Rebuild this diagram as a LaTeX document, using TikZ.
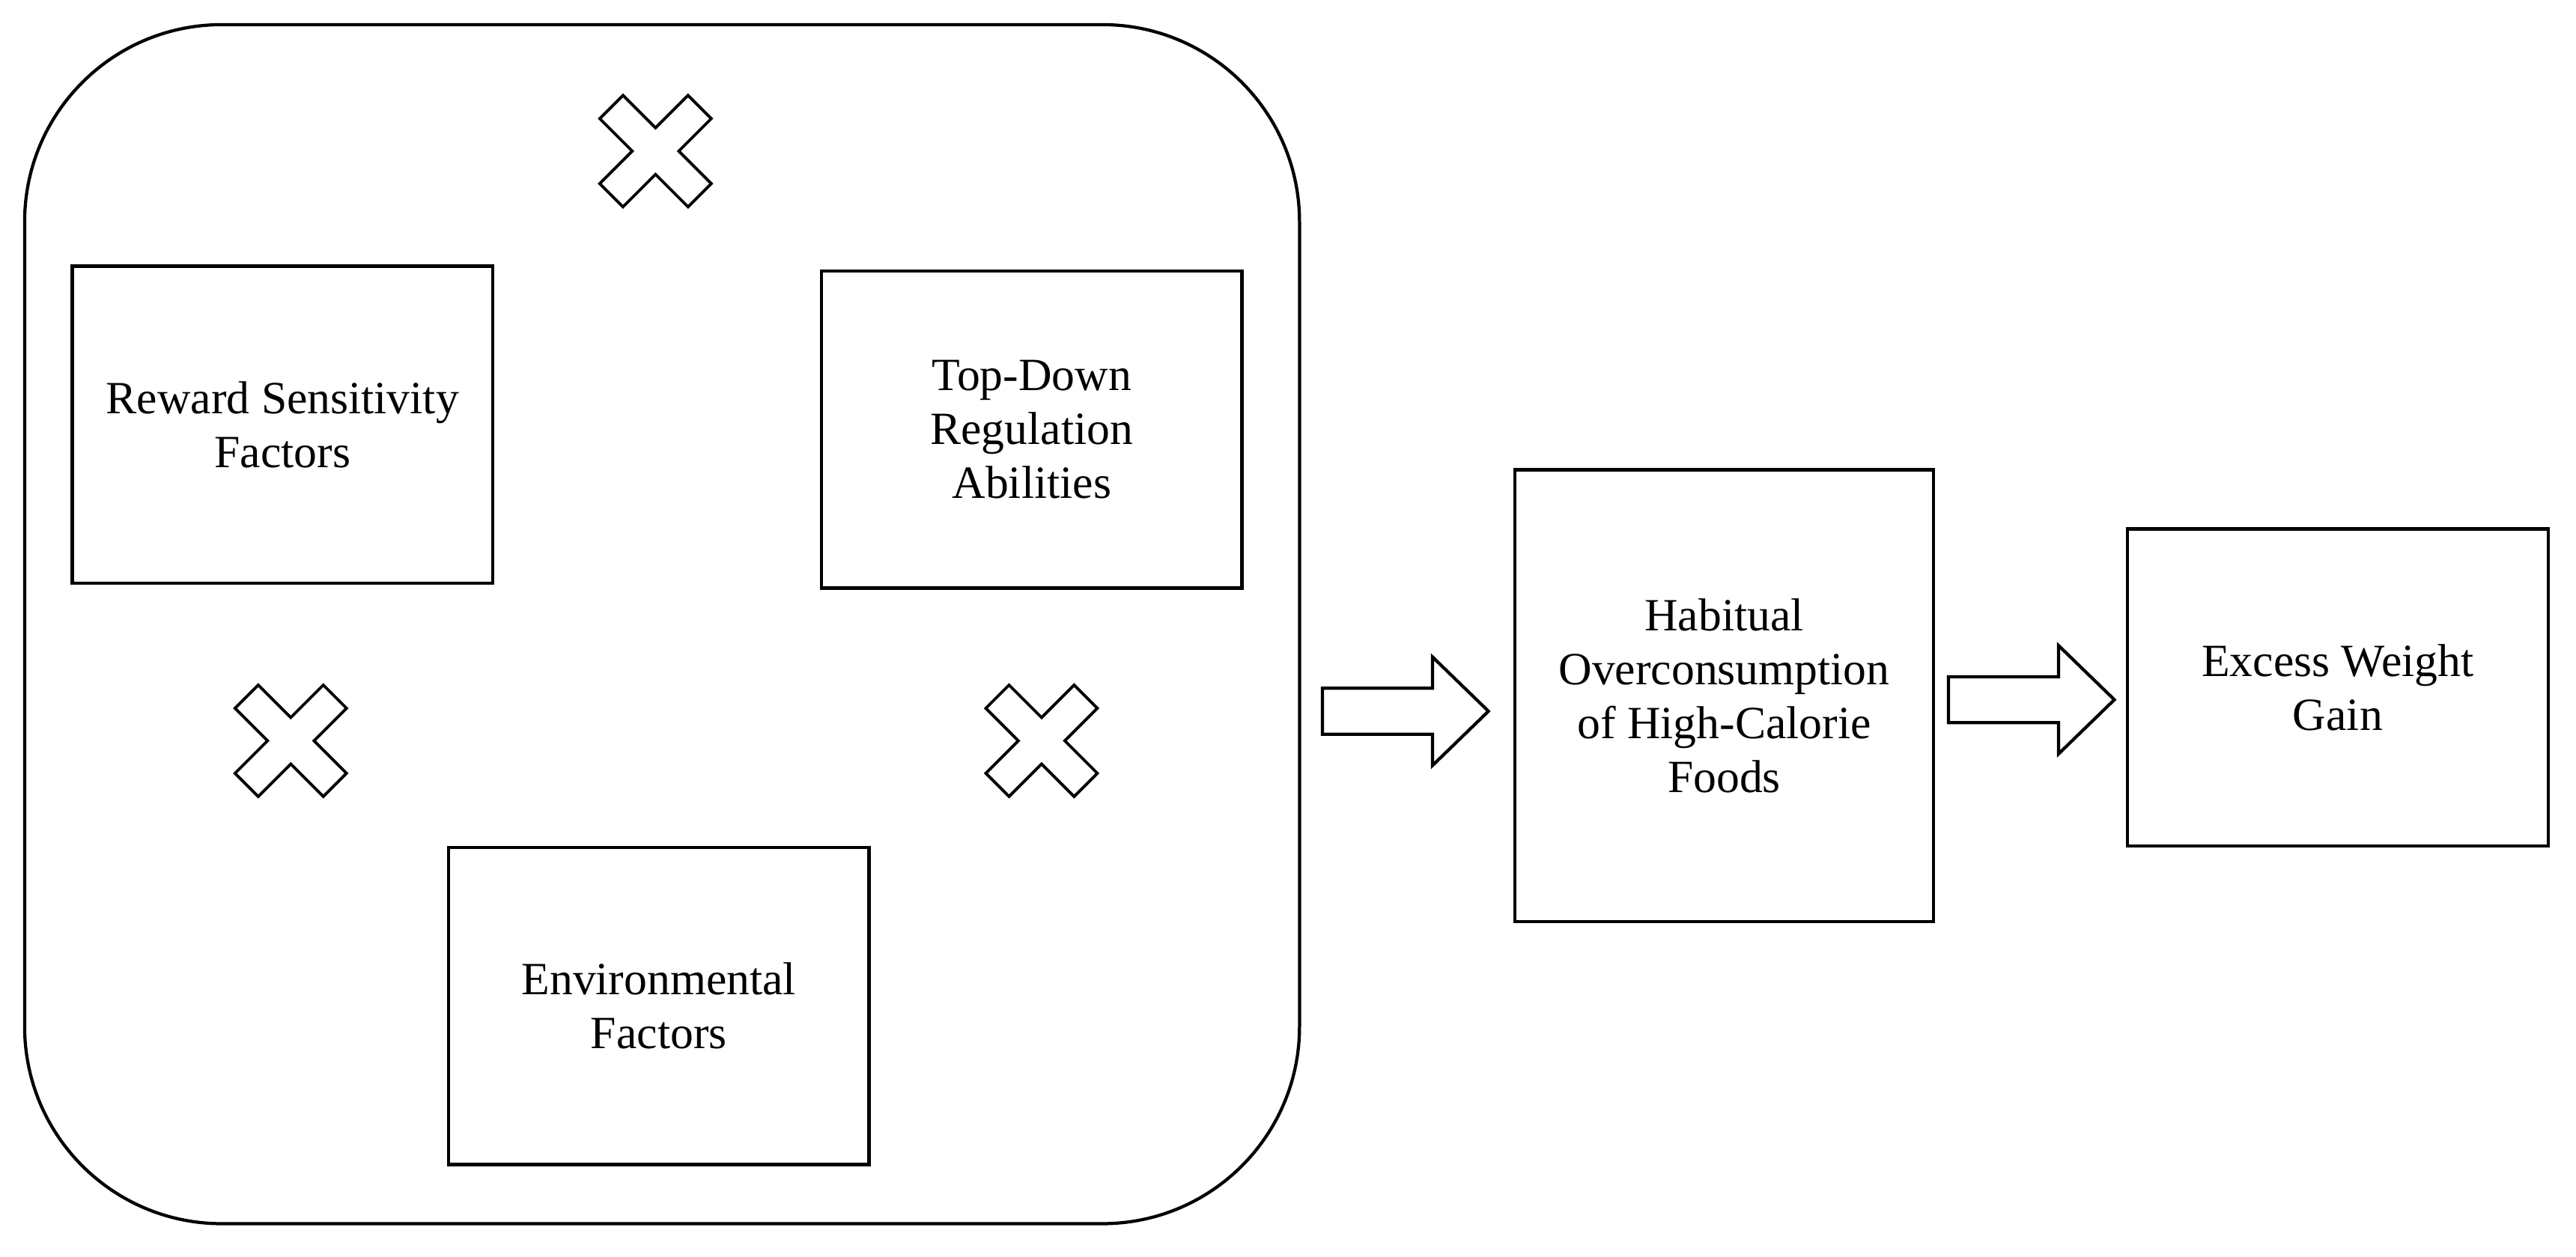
\documentclass[tikz,border=0pt]{standalone}
\usepackage{fontspec}
\setmainfont{Liberation Serif}
\begin{document}
\begin{tikzpicture}[x=0.02cm,y=-0.02cm,line width=1.1pt,
  box/.style={draw,align=center,font=\fontsize{16}{18.7}\selectfont,inner sep=0pt},
  cross/.style={draw,line width=1pt,line join=miter}]
\useasboundingbox (0,0) rectangle (1568,765);
\draw[rounded corners=2.4cm] (15,15) rectangle (791,745);
\node[box,minimum width=256*0.02cm,minimum height=193*0.02cm] (rs) at (172,258.5) {Reward Sensitivity\\Factors};
\node[box,minimum width=256*0.02cm,minimum height=193*0.02cm] (td) at (628,261.5) {Top-Down\\Regulation\\Abilities};
\node[box,minimum width=256*0.02cm,minimum height=193*0.02cm] (env) at (401,612.5) {Environmental\\Factors};
\node[box,minimum width=255*0.02cm,minimum height=275*0.02cm] (hab) at (1049.5,423.5) {Habitual\\Overconsumption\\of High-Calorie\\Foods};
\node[box,minimum width=256*0.02cm,minimum height=193*0.02cm] (ex) at (1423,418.5) {Excess Weight\\Gain};
\foreach \n/\cx/\cy in {c1/399/92,c2/177/451,c3/634/451}{
  \coordinate (\n) at (\cx,\cy);
  \draw[cross,shift={(\n)},rotate=45] (-10,-38)--(10,-38)--(10,-10)--(38,-10)--(38,10)--(10,10)--(10,38)--(-10,38)--(-10,10)--(-38,10)--(-38,-10)--(-10,-10)--cycle;
}
\coordinate (a1) at (805,433);
\draw[shift={(a1)}] (0,-14)--(67,-14)--(67,-33)--(101,0)--(67,33)--(67,14)--(0,14)--cycle;
\coordinate (a2) at (1186,426);
\draw[shift={(a2)}] (0,-14)--(67,-14)--(67,-33)--(101,0)--(67,33)--(67,14)--(0,14)--cycle;
\end{tikzpicture}
\end{document}
